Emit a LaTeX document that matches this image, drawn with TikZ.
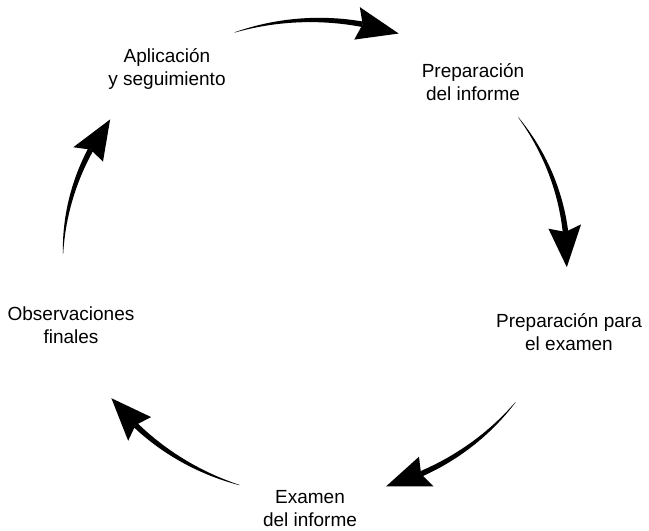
\documentclass[tikz,border=0pt]{standalone}
\usepackage{fontspec}
\setmainfont{Liberation Sans}
\tikzset{
  steptext/.style={align=center, font=\fontsize{19}{23}\selectfont, inner sep=0pt, anchor=center},
  arrowfill/.style={fill=black, draw=none},
}
% ellipse carrying the arrows
\def\ecx{315}\def\ecy{258}\def\erx{252}\def\ery{238}
\newcommand\cycarrow[2]{%
  \pgfmathsetmacro\ca{#1}%
  \pgfmathsetmacro\ct{#2}%
  \pgfmathsetmacro\cb{#2-9.8}%
  \pgfmathsetmacro\ci{#2-8.5}%
  \fill[arrowfill]
    plot[domain=0:1, samples=60, variable=\u, smooth]
      ({\ecx+(\erx+0.5*(0.3+5.2*\u*(1.6-0.6*\u)))*cos(\ca+(\ci-\ca)*\u)},
       {\ecy+(\ery+0.5*(0.3+5.2*\u*(1.6-0.6*\u)))*sin(\ca+(\ci-\ca)*\u)})
    -- plot[domain=0:1, samples=60, variable=\u, smooth]
      ({\ecx+(\erx-0.5*(0.3+5.2*(1-\u)*(1.6-0.6*(1-\u))))*cos(\ci+(\ca-\ci)*\u)},
       {\ecy+(\ery-0.5*(0.3+5.2*(1-\u)*(1.6-0.6*(1-\u))))*sin(\ci+(\ca-\ci)*\u)})
    -- cycle;
  \fill[arrowfill]
    ({\ecx+\erx*cos(\ct)},{\ecy+\ery*sin(\ct)})
    -- ({\ecx+(\erx+16.5)*cos(\cb)},{\ecy+(\ery+16.5)*sin(\cb)})
    -- ({\ecx+\erx*cos(\ci)},{\ecy+\ery*sin(\ci)})
    -- ({\ecx+(\erx-16.5)*cos(\cb)},{\ecy+(\ery-16.5)*sin(\cb)})
    -- cycle;
}
\begin{document}
\begin{tikzpicture}[x=1pt,y=-1pt]
\useasboundingbox (0,0) rectangle (649,531);
\fill[white] (0,0) rectangle (649,531);

\node[steptext] (aplic) at (167,69) {Aplicación\\y seguimiento};
\node[steptext] (prepinf) at (473,82) {Preparación\\del informe};
\node[steptext] (prepex) at (569,332) {Preparación para\\el examen};
\node[steptext] (examen) at (310,509) {Examen\\del informe};
\node[steptext] (obs) at (71,325) {Observaciones\\finales};

\cycarrow{-108.6}{-70.6}
\cycarrow{-36.2}{2.2}
\cycarrow{37.3}{73.6}
\cycarrow{107.4}{143.9}
\cycarrow{181}{215.6}
\end{tikzpicture}
\end{document}
